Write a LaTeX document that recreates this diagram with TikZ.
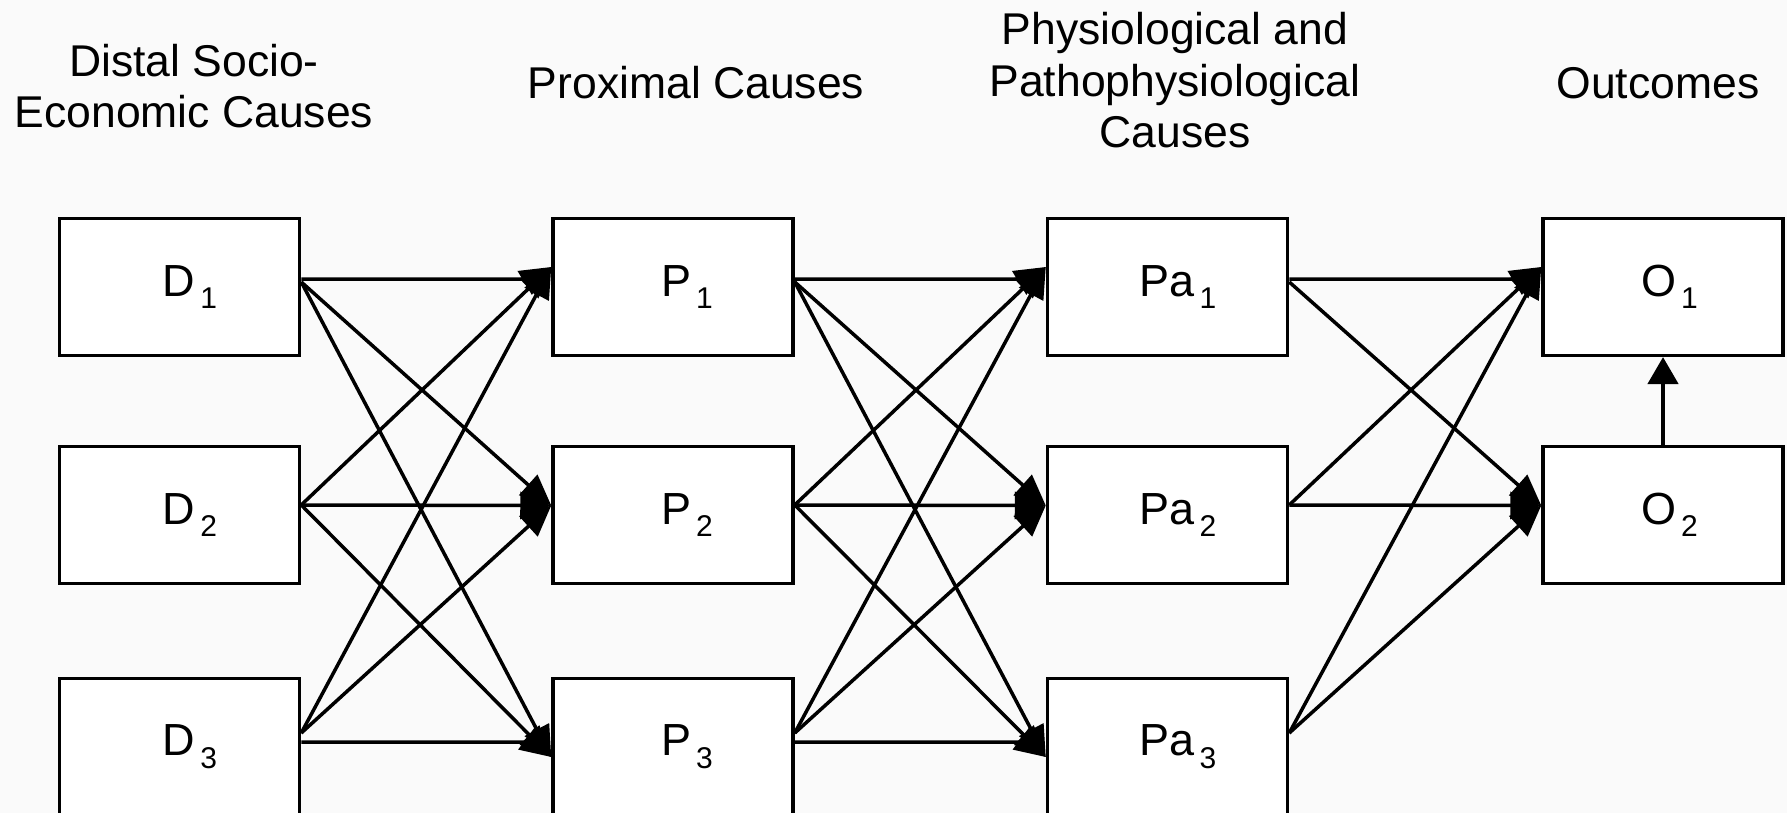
\documentclass[tikz,border=0pt]{standalone}
\usepackage{fontspec}
\setmainfont{Liberation Sans}
\usetikzlibrary{arrows.meta,calc}
\definecolor{bgcol}{RGB}{250,250,250}
\newcommand\titlefont{\fontsize{44.5}{51.5}\selectfont}
\newcommand\labfont{\fontsize{45}{45}\selectfont}
\newcommand\lab[3]{\hspace*{#1}#2\kern5pt\raisebox{-12.3pt}{\fontsize{30}{30}\selectfont #3}}
\tikzset{
  box/.style={draw, line width=3.5pt, fill=white, minimum width=240pt, minimum height=136.6pt, inner sep=0pt, font=\labfont},
  conn/.style={line width=3.5pt, line join=miter, -{Triangle[length=31pt,width=27pt]}},
  uparrow/.style={line width=4.5pt, -{Triangle[length=27pt,width=30pt]}},
  title/.style={font=\titlefont, align=center, inner sep=0pt},
}
\begin{document}
\begin{tikzpicture}[x=1pt,y=-1pt]
\useasboundingbox (0,0) rectangle (1787,813);
\clip (0,0) rectangle (1787,813);
\fill[bgcol] (0,0) rectangle (1787,813);

% titles (anchor = baseline of last line)
\node[title, anchor=base] (t1) at (194,128) {Distal Socio-\\Economic Causes};
\node[title, anchor=base] (t2) at (696,99) {Proximal Causes};
\node[title, anchor=base] (t3) at (1175,148) {Physiological and\\Pathophysiological\\Causes};
\node[title, anchor=base] (t4) at (1658,99) {Outcomes};

% boxes
\node[box] (D1) at (179.5,287) {\lab{21pt}{D}{1}};
\node[box] (D2) at (179.5,515) {\lab{21pt}{D}{2}};
\node[box] (D3) at (179.5,746.6) {\lab{21pt}{D}{3}};
\node[box] (P1) at (673,287) {\lab{28pt}{P}{1}};
\node[box] (P2) at (673,515) {\lab{28pt}{P}{2}};
\node[box] (P3) at (673,746.6) {\lab{28pt}{P}{3}};
\node[box] (Pa1) at (1167.5,287) {\lab{21pt}{Pa}{1}};
\node[box] (Pa2) at (1167.5,515) {\lab{21pt}{Pa}{2}};
\node[box] (Pa3) at (1167.5,746.6) {\lab{21pt}{Pa}{3}};
\node[box] (O1) at (1663,287) {\lab{13pt}{O}{1}};
\node[box] (O2) at (1663,515) {\lab{13pt}{O}{2}};

% connection points
\foreach \c in {D,P,Pa}{
  \coordinate (\c1h) at ([yshift=8pt]\c1.east);
  \coordinate (\c1d) at ([yshift=5pt]\c1.east);
  \coordinate (\c2h) at ([yshift=10pt]\c2.east);
  \coordinate (\c2d) at ([yshift=10pt]\c2.east);
  \coordinate (\c3h) at ([yshift=4.6pt]\c3.east);
  \coordinate (\c3d) at ([yshift=13.6pt]\c3.east);
}
\foreach \c in {P,Pa,O}{
  \coordinate (\c1t) at ([yshift=20pt]\c1.west);
  \coordinate (\c2t) at ([yshift=9.5pt]\c2.west);
}
\foreach \c in {P,Pa}{
  \coordinate (\c3t) at ([yshift=-10.4pt]\c3.west);
}

% connectors between the first three columns
\foreach \a/\b in {D/P, P/Pa}{
  \draw[conn] (\a1h) -- ($(\b1t |- \a1h)+(-20,0)$) -- (\b1t);
  \draw[conn] (\a1d) -- (\b2t);
  \draw[conn] (\a1d) -- (\b3t);
  \draw[conn] (\a2d) -- (\b1t);
  \draw[conn] (\a2h) -- (\b2t);
  \draw[conn] (\a2d) -- (\b3t);
  \draw[conn] (\a3d) -- (\b1t);
  \draw[conn] (\a3d) -- (\b2t);
  \draw[conn] (\a3h) -- ($(\b3t |- \a3h)+(-20,0)$) -- (\b3t);
}

% connectors to outcomes
\draw[conn] (Pa1h) -- ($(O1t |- Pa1h)+(-20,0)$) -- (O1t);
\draw[conn] (Pa1d) -- (O2t);
\draw[conn] (Pa2d) -- (O1t);
\draw[conn] (Pa2h) -- (O2t);
\draw[conn] (Pa3d) -- (O1t);
\draw[conn] (Pa3d) -- (O2t);
\draw[uparrow] (O2.north) -- (O1.south);
\end{tikzpicture}
\end{document}
